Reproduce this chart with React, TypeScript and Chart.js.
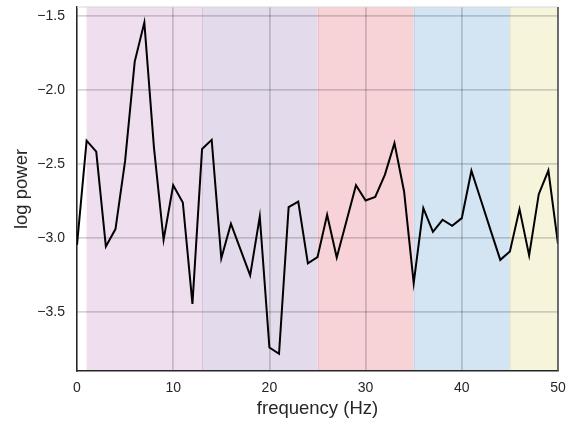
import React, { useEffect, useRef } from "react";
import { Chart, registerables } from "chart.js";

Chart.register(...registerables);

const frequencies: number[] = Array.from({ length: 51 }, (_, i) => i);
const logPower: number[] = [
  -3.047, -2.343, -2.417, -3.058, -2.941, -2.48, -1.809, -1.545, -2.39, -3.014,
  -2.645, -2.761, -3.446, -2.399, -2.338, -3.138, -2.905, -3.08, -3.254, -2.856,
  -3.741, -3.784, -2.793, -2.755, -3.172, -3.131, -2.845, -3.133, -2.89, -2.644,
  -2.748, -2.723, -2.574, -2.36, -2.687, -3.306, -2.8, -2.959, -2.878, -2.919,
  -2.867, -2.547, -2.748, -2.95, -3.149, -3.092, -2.806, -3.119, -2.705, -2.545,
  -3.041,
];
const xTicks: number[] = [0, 10, 20, 30, 40, 50];
const yTicks: number[] = [-3.5, -3.0, -2.5, -2.0, -1.5];
const bandStarts: number[] = [1, 13, 25, 35, 45];
const bandEnds: number[] = [13, 25, 35, 45, 50];
const bandColors: string[] = ["#efdfee", "#e3dbeb", "#f7d3d8", "#d3e4f3", "#f6f5dc"];
const bandEdgeColors: string[] = ["#e6cfe6", "#d6c4e0", "#ebbfc8", "#c3d6ea", "#ebe9c8"];

const bandsPlugin = {
  id: "bands",
  beforeDraw(chart: any) {
    const { ctx, chartArea } = chart;
    const xs = chart.scales.x;
    ctx.save();
    for (let i = 0; i < bandStarts.length; i++) {
      const x0 = xs.getPixelForValue(bandStarts[i]);
      const x1 = xs.getPixelForValue(bandEnds[i]);
      ctx.fillStyle = bandColors[i];
      ctx.fillRect(x0, chartArea.top, x1 - x0, chartArea.bottom - chartArea.top);
    }
    ctx.lineWidth = 1;
    for (let i = 1; i < bandStarts.length; i++) {
      const x0 = Math.round(xs.getPixelForValue(bandStarts[i])) + 0.5;
      ctx.strokeStyle = bandEdgeColors[i];
      ctx.beginPath();
      ctx.moveTo(x0, chartArea.top);
      ctx.lineTo(x0, chartArea.bottom);
      ctx.stroke();
    }
    ctx.restore();
  },
  afterDraw(chart: any) {
    const { ctx, chartArea } = chart;
    ctx.save();
    ctx.strokeStyle = "#d8d8d8";
    ctx.lineWidth = 1.2;
    ctx.beginPath();
    ctx.moveTo(chartArea.left, chartArea.top);
    ctx.lineTo(chartArea.right, chartArea.top);
    ctx.stroke();
    ctx.strokeStyle = "#4a4a4a";
    ctx.lineWidth = 1.5;
    ctx.beginPath();
    ctx.moveTo(chartArea.right, chartArea.top);
    ctx.lineTo(chartArea.right, chartArea.bottom);
    ctx.stroke();
    ctx.restore();
  },
};

export default function App() {
  const ref = useRef<HTMLCanvasElement | null>(null);
  useEffect(() => {
    if (!ref.current) return;
    const font = "'Liberation Sans', Arial, sans-serif";
    const chart = new Chart(ref.current, {
      type: "line",
      data: {
        datasets: [
          {
            data: frequencies.map((f, i) => ({ x: f, y: logPower[i] })),
            borderColor: "#000000",
            borderWidth: 2,
            pointRadius: 0,
            tension: 0,
            fill: false,
          },
        ],
      },
      options: {
        animation: false,
        responsive: false,
        devicePixelRatio: 1,
        layout: { padding: { top: 7, right: 12, left: 0, bottom: 0 } },
        plugins: { legend: { display: false }, tooltip: { enabled: false } },
        scales: {
          x: {
            type: "linear",
            min: 0,
            max: 50,
            afterBuildTicks: (s: any) => {
              s.ticks = xTicks.map((v) => ({ value: v }));
            },
            afterFit: (s: any) => {
              s.height = 54;
              s.paddingLeft = 0;
              s.paddingRight = 0;
            },
            grid: { color: "rgba(0,0,0,0.17)", lineWidth: 1.8, drawTicks: false },
            border: { color: "#262626", width: 1.5 },
            ticks: {
              padding: 9,
              color: "#262626",
              font: { family: font, size: 14 },
              maxRotation: 0,
              callback: (v: any) => String(v),
            },
            title: {
              display: true,
              text: "frequency (Hz)",
              color: "#262626",
              font: { family: font, size: 18.5 },
              padding: { top: 0, bottom: 5 },
            },
          },
          y: {
            type: "linear",
            min: -3.9,
            max: -1.44,
            afterBuildTicks: (s: any) => {
              s.ticks = yTicks.map((v) => ({ value: v }));
            },
            afterFit: (s: any) => {
              s.width = 77;
              s.paddingTop = 0;
              s.paddingBottom = 0;
            },
            grid: { color: "rgba(0,0,0,0.17)", lineWidth: 1.8, drawTicks: false },
            border: { color: "#262626", width: 1.5 },
            ticks: {
              padding: 12,
              color: "#262626",
              font: { family: font, size: 14 },
              callback: (v: any) => Number(v).toFixed(1).replace("-", "\u2212"),
            },
            title: {
              display: true,
              text: "log power",
              color: "#262626",
              font: { family: font, size: 18.5 },
              padding: { top: 11, bottom: 0 },
            },
          },
        },
      },
      plugins: [bandsPlugin],
    });
    return () => chart.destroy();
  }, []);
  return (
    <div style={{ position: "fixed", left: 0, top: 0, width: 570, height: 425, background: "#ffffff" }}>
      <canvas ref={ref} width={570} height={425} style={{ width: 570, height: 425 }} />
    </div>
  );
}
